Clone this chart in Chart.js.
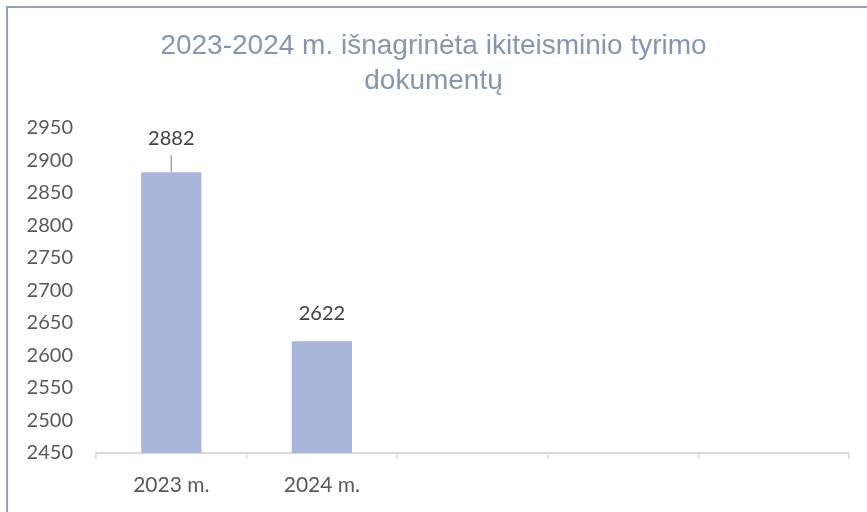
<!DOCTYPE html>
<html>
<head>
<meta charset="utf-8">
<script src="https://cdn.jsdelivr.net/npm/chart.js@4"></script>
<style>
  html, body { margin: 0; padding: 0; background: #ffffff; }
  #wrap { position: relative; width: 867px; height: 512px; overflow: hidden; }
  #frame {
    position: absolute; left: 6px; top: 6px; width: 900px; height: 540px;
    border-left: 2px solid #8ea3c0; border-top: 2px solid #8ea3c0;
  }
  #chart { position: absolute; left: 0; top: 0; }
</style>
</head>
<body>
<div id="wrap">
  <div id="frame"></div>
  <canvas id="chart" width="867" height="512"></canvas>
</div>
<script>
const titleLines = ['2023-2024 m. išnagrinėta ikiteisminio tyrimo', 'dokumentų'];
const categories = ['2023 m.', '2024 m.', '', '', ''];
const documentCounts = [2882, 2622, null, null, null];
const yMin = 2450;
const yMax = 2950;
const yStep = 50;

const textColor = '#595959';
const labelFont = { family: 'Lato, "Noto Sans", sans-serif', size: 20 };

// value labels above bars, first one sits higher with a leader line
const valueLabels = {
  id: 'valueLabels',
  afterDatasetsDraw(chart, args, opts) {
    const { ctx } = chart;
    const meta = chart.getDatasetMeta(0);
    ctx.save();
    ctx.font = `${labelFont.size}px ${labelFont.family}`;
    ctx.fillStyle = '#404040';
    ctx.textAlign = 'center';
    ctx.textBaseline = 'middle';
    meta.data.forEach((bar, i) => {
      const value = documentCounts[i];
      if (value == null) return;
      const lift = opts.lift[i];
      ctx.fillText(String(value), bar.x, bar.y - lift);
      if (opts.leader[i]) {
        ctx.strokeStyle = '#a6a6a6';
        ctx.lineWidth = 1.5;
        ctx.beginPath();
        ctx.moveTo(bar.x, bar.y - lift + 17);
        ctx.lineTo(bar.x, bar.y);
        ctx.stroke();
      }
    });
    ctx.restore();
  },
};

new Chart(document.getElementById('chart'), {
  type: 'bar',
  data: {
    labels: categories,
    datasets: [
      {
        data: documentCounts,
        backgroundColor: '#a9b6db',
        borderWidth: 0,
        barPercentage: 0.4,
        categoryPercentage: 1,
      },
    ],
  },
  options: {
    responsive: false,
    animation: false,
    layout: { padding: { left: 18, right: 18, top: 0, bottom: 0 } },
    plugins: {
      legend: { display: false },
      tooltip: { enabled: false },
      title: {
        display: true,
        text: titleLines,
        color: '#8497b0',
        font: { family: '"Liberation Sans", Arial, sans-serif', size: 28, weight: 'normal', lineHeight: 1.25 },
        padding: { top: 29, bottom: 29 },
      },
      valueLabels: { lift: [34, 28], leader: [true, false] },
    },
    scales: {
      x: {
        offset: true,
        grid: {
          display: true,
          offset: true,
          drawOnChartArea: false,
          tickLength: 6,
          color: '#d9d9d9',
          lineWidth: 1.5,
        },
        border: { display: true, color: '#d9d9d9', width: 2 },
        ticks: { color: textColor, font: { family: labelFont.family, size: 21 }, padding: 14 },
        afterFit(scale) { scale.height = 59; },
      },
      y: {
        min: yMin,
        max: yMax,
        grid: { display: false, drawTicks: false },
        border: { display: false },
        ticks: {
          stepSize: yStep,
          color: textColor,
          font: labelFont,
          padding: 23,
          callback: (value) => String(value),
        },
        afterFit(scale) { scale.width = 78; },
      },
    },
  },
  plugins: [valueLabels],
});
</script>
</body>
</html>
